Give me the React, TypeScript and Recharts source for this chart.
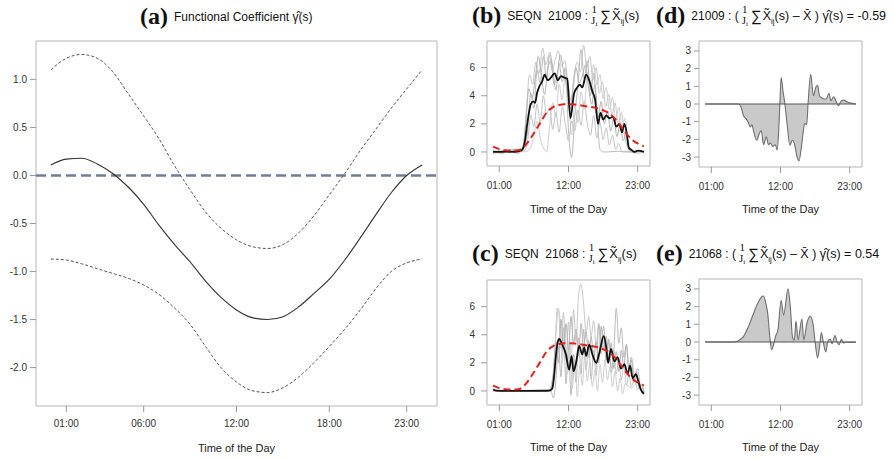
import React from 'react';
import { ComposedChart, Line, Area, XAxis, YAxis, ReferenceLine, ReferenceArea } from 'recharts';

const SANS = '"Liberation Sans", Arial, Helvetica, sans-serif';
const SERIF = '"Liberation Serif", "Times New Roman", serif';

// panel (a): functional coefficient and its band, read hourly
const hoursA = [0, 1, 2, 3, 4, 5, 6, 7, 8, 9, 10, 11, 12, 13, 14, 15, 16, 17, 18, 19, 20, 21, 22, 23, 24];
const gammaHat = [0.11, 0.17, 0.18, 0.12, 0.02, -0.12, -0.3, -0.52, -0.72, -0.9, -1.1, -1.27, -1.4, -1.48, -1.5, -1.47, -1.37, -1.23, -1.08, -0.88, -0.65, -0.41, -0.18, 0.0, 0.11];
const upperBand = [1.1, 1.22, 1.26, 1.22, 1.08, 0.85, 0.62, 0.38, 0.1, -0.15, -0.38, -0.55, -0.67, -0.74, -0.76, -0.72, -0.6, -0.42, -0.2, 0.02, 0.26, 0.48, 0.7, 0.9, 1.1];
const lowerBand = [-0.87, -0.88, -0.92, -0.97, -1.02, -1.07, -1.14, -1.24, -1.38, -1.55, -1.78, -2.0, -2.15, -2.24, -2.26, -2.21, -2.1, -1.95, -1.78, -1.6, -1.4, -1.18, -1.0, -0.91, -0.87];

const tickHoursA = [1, 6, 12, 18, 23];
const tickLabelsA = ['01:00', '06:00', '12:00', '18:00', '23:00'];
const tickHoursSmall = [1, 12, 23];
const tickLabelsSmall = ['01:00', '12:00', '23:00'];
const yTicksA = [-2, -1.5, -1, -0.5, 0, 0.5, 1];
const yTicksActivity = [0, 2, 4, 6];
const yTicksContrib = [-3, -2, -1, 0, 1, 2, 3];

// population mean curve (red dashed), [hour, value]
const overallMean = [[0, 0.38], [1, 0.2], [2, 0.12], [3, 0.1], [4, 0.12], [5, 0.4], [5.5, 0.66], [6, 1.0], [6.6, 1.4], [7.2, 1.85], [7.7, 2.2], [8.2, 2.6], [8.7, 2.9], [9.3, 3.12], [9.8, 3.27], [10.5, 3.35], [11.4, 3.4], [12.2, 3.4], [13, 3.38], [13.8, 3.33], [14.6, 3.27], [15.6, 3.2], [16.7, 3.1], [17.5, 2.97], [18.3, 2.8], [19.1, 2.5], [19.9, 2.1], [20.7, 1.6], [21.5, 1.14], [22.3, 0.8], [23.1, 0.58], [24, 0.4]];

// SEQN 21009
const mean21009 = [[0, 0.0], [1, 0.0], [2, 0.02], [3, 0.0], [4, 0.05], [4.5, 0.1], [5.0, 0.6], [5.5, 2.2], [6.0, 3.4], [6.4, 3.6], [6.7, 3.5], [7.0, 4.2], [7.4, 4.7], [7.8, 5.0], [8.2, 5.5], [8.7, 5.1], [9.2, 5.3], [9.8, 5.6], [10.3, 5.1], [10.8, 5.4], [11.3, 5.3], [11.8, 5.2], [12.3, 2.4], [12.9, 4.2], [13.4, 4.6], [13.8, 4.8], [14.2, 4.6], [14.8, 5.5], [15.3, 5.1], [15.8, 4.3], [16.2, 3.8], [16.7, 2.0], [17.1, 2.8], [17.5, 2.3], [18.0, 2.6], [18.5, 2.4], [19.1, 2.5], [19.6, 1.8], [20.1, 2.0], [20.5, 1.4], [20.9, 2.0], [21.2, 1.5], [21.6, 0.3], [22.0, 0.15], [22.5, 0.0], [23, 0.1], [24, 0.0]];
const day21009a = [[0, 0], [2, 0.1], [4, 0], [4.8, 0.2], [5.3, 3.0], [5.8, 5.5], [6.3, 4.8], [6.8, 6.4], [7.3, 5.6], [7.9, 7.4], [8.4, 6.2], [8.9, 6.9], [9.4, 5.8], [9.9, 6.6], [10.4, 7.2], [10.9, 6.1], [11.4, 6.5], [11.9, 5.0], [12.4, 3.6], [12.9, 5.5], [13.4, 6.4], [13.9, 5.7], [14.4, 7.6], [14.9, 6.0], [15.4, 6.8], [15.9, 5.1], [16.4, 6.0], [16.9, 4.2], [17.4, 5.0], [17.9, 3.2], [18.4, 4.1], [18.9, 2.6], [19.4, 3.5], [19.9, 2.0], [20.4, 2.8], [20.9, 1.2], [21.4, 0.3], [22, 0.0], [23, 0.1], [24, 0.0]];
const day21009b = [[0, 0.1], [1.5, -0.1], [3, 0.2], [4.5, 0.0], [5.0, 0.4], [5.5, 1.5], [6.0, 4.2], [6.5, 3.1], [7.0, 5.8], [7.5, 4.9], [8.0, 6.8], [8.5, 5.2], [9.0, 7.1], [9.5, 6.0], [10.0, 4.4], [10.5, 6.3], [11.0, 5.0], [11.5, 6.0], [12.0, 1.5], [12.5, -0.4], [13.0, 2.5], [13.5, 4.8], [14.0, 7.3], [14.5, 5.2], [15.0, 6.5], [15.5, 4.0], [16.0, 5.6], [16.5, 3.0], [17.0, 0.2], [17.5, 0.0], [18, 0.0], [20, 0.05], [22, 0.0], [23, 0.05], [24, 0.0]];
const day21009c = [[0, -0.1], [2, 0.0], [4, 0.1], [5, 0.0], [6.0, 0.3], [6.5, 1.2], [7.0, 2.2], [7.5, 1.0], [8.0, 0.3], [8.5, 0.0], [9.0, 1.8], [9.5, 3.5], [10.0, 2.5], [10.5, 4.8], [11.0, 3.7], [11.5, 5.6], [12.0, 4.0], [12.5, 1.2], [13.0, 3.3], [13.5, 2.1], [14.0, 4.3], [14.5, 3.1], [15.0, 5.7], [15.5, 4.4], [16.0, 6.2], [16.5, 4.8], [17.0, 5.5], [17.5, 3.8], [18.0, 4.6], [18.5, 3.0], [19.0, 3.9], [19.5, 2.2], [20.0, 3.2], [20.5, 1.8], [21.0, 2.4], [21.5, 0.4], [22, 0.0], [23, -0.1], [24, 0.0]];
const day21009d = [[0, 0.0], [2.5, 0.1], [4.0, -0.1], [4.7, 0.3], [5.2, 2.0], [5.7, 4.5], [6.2, 3.8], [6.7, 5.2], [7.2, 6.8], [7.7, 5.4], [8.2, 4.1], [8.7, 5.9], [9.2, 6.5], [9.7, 4.8], [10.2, 5.5], [10.7, 6.9], [11.2, 5.8], [11.7, 4.6], [12.2, 3.0], [12.7, 4.4], [13.2, 6.0], [13.7, 4.9], [14.2, 5.4], [14.7, 6.2], [15.2, 4.5], [15.7, 3.4], [16.2, 4.8], [16.7, 2.5], [17.2, 3.6], [17.7, 2.0], [18.2, 2.9], [18.7, 1.5], [19.2, 2.4], [19.7, 1.1], [20.2, 1.9], [20.7, 0.8], [21.2, 1.4], [21.7, 0.1], [22.5, 0.0], [24, 0.05]];
const day21009e = [[0, 0.1], [2, 0.0], [4, 0.2], [5, 0.1], [5.5, 0.8], [6.0, 2.6], [6.5, 1.8], [7.0, 3.4], [7.5, 2.1], [8.0, 4.0], [8.5, 2.7], [9.0, 3.1], [9.5, 1.6], [10.0, 2.8], [10.5, 1.4], [11.0, 3.2], [11.5, 2.0], [12.0, 0.8], [12.5, 2.2], [13.0, 1.5], [13.5, 3.0], [14.0, 1.9], [14.5, 3.6], [15.0, 2.0], [15.5, 1.2], [16.0, 2.6], [16.5, 1.0], [17.0, 2.1], [17.5, 0.9], [18.0, 1.7], [18.5, 0.5], [19.0, 1.2], [19.5, 0.2], [20, 0.6], [20.5, 0.0], [22, 0.0], [24, 0.0]];

// SEQN 21068
const mean21068 = [[0, 0.1], [0.5, 0.02], [2, 0], [4, 0], [6, 0], [8, 0.0], [9.0, 0.02], [9.4, 0.15], [9.7, 1.0], [10.0, 2.5], [10.3, 3.5], [10.5, 3.7], [11.0, 3.3], [11.6, 2.6], [12.1, 1.5], [12.5, 2.5], [12.8, 1.4], [13.2, 2.0], [13.7, 3.2], [14.2, 2.6], [14.5, 3.1], [14.8, 2.5], [15.3, 3.3], [15.8, 2.6], [16.4, 2.0], [16.9, 2.7], [17.6, 3.9], [18.0, 3.1], [18.3, 2.0], [18.75, 3.0], [19.3, 2.1], [19.8, 2.4], [20.35, 1.6], [20.9, 1.9], [21.4, 1.2], [21.8, 1.8], [22.2, 0.9], [22.7, 1.2], [23.1, 0.7], [23.5, 0.1], [24, -0.2]];
const day21068a = [[0, 0], [3, 0.05], [6, 0], [9, 0.05], [9.5, 0.5], [10.0, 4.0], [10.4, 5.9], [10.8, 3.0], [11.2, 5.6], [11.6, 2.2], [12.0, 4.9], [12.4, 1.8], [12.8, 5.8], [13.2, 3.5], [13.6, 6.8], [14.0, 7.6], [14.4, 6.2], [14.8, 4.1], [15.2, 5.3], [15.6, 3.9], [16.0, 5.0], [16.4, 3.2], [16.8, 4.7], [17.2, 2.6], [17.6, 4.0], [18.0, 2.1], [18.4, 3.5], [18.8, 1.6], [19.2, 2.9], [19.6, 1.2], [20.0, 2.3], [20.4, 0.8], [20.8, 1.8], [21.2, 0.4], [21.6, 1.2], [22, 0.3], [22.5, 0.9], [23, 0.1], [23.5, 0.4], [24, -0.1]];
const day21068b = [[0, 0.05], [4, 0], [8, 0.1], [9.2, 0.0], [9.6, -0.5], [10.0, 0.8], [10.4, 3.2], [10.8, 1.0], [11.2, 4.5], [11.6, 0.5], [12.0, 3.0], [12.4, -0.3], [12.8, 2.6], [13.2, 0.6], [13.6, 3.8], [14.0, 1.2], [14.4, 4.4], [14.8, 1.5], [15.2, 3.6], [15.6, 0.8], [16.0, 2.9], [16.4, 1.1], [16.8, 4.8], [17.2, 3.5], [17.6, 4.6], [18.0, 2.2], [18.4, 3.7], [18.8, 1.3], [19.2, 2.8], [19.6, 5.9], [20.0, 3.4], [20.4, 4.5], [20.8, 2.4], [21.2, 3.3], [21.6, 1.6], [22, 2.4], [22.5, 1.0], [23, 1.6], [23.5, 0.2], [24, 0]];
const day21068c = [[0, 0], [5, 0.05], [9, 0], [9.4, 0.3], [9.8, 2.5], [10.2, 5.9], [10.6, 5.4], [11.0, 2.0], [11.4, 4.7], [11.8, 1.2], [12.2, 3.6], [12.6, 0.2], [13.0, 2.2], [13.4, -0.4], [13.8, 1.8], [14.2, 0.4], [14.6, 2.5], [15.0, 0.7], [15.4, 2.0], [15.8, 0.3], [16.2, 1.5], [16.6, 0.0], [17.0, 1.9], [17.4, 0.6], [17.8, 2.2], [18.2, 0.8], [18.6, 1.7], [19.0, 0.3], [19.4, 1.4], [19.8, 0.0], [20.2, 0.9], [20.6, -0.2], [21, 0.5], [22, 0.2], [23, 0.6], [24, 0.1]];
const day21068d = [[0, 0], [6, 0], [9, 0.1], [9.6, 1.4], [10.0, 3.5], [10.4, 2.0], [10.8, 5.1], [11.2, 3.1], [11.6, 4.8], [12.0, 2.9], [12.4, 5.3], [12.8, 3.4], [13.2, 4.4], [13.6, 2.5], [14.0, 4.8], [14.4, 3.0], [14.8, 4.2], [15.2, 2.4], [15.6, 3.9], [16.0, 2.2], [16.4, 3.5], [16.8, 2.0], [17.2, 4.6], [17.6, 3.0], [18.0, 3.9], [18.4, 2.1], [18.8, 3.4], [19.2, 1.6], [19.6, 2.8], [20.0, 1.4], [20.4, 2.9], [20.8, 1.7], [21.2, 3.3], [21.6, 1.5], [22.0, 2.2], [22.4, 0.6], [22.8, 1.4], [23.2, 0.2], [23.6, 0.5], [24, -0.1]];

// contributions (panels d, e)
const contrib21009 = [[0, 0], [3, 0], [5.3, 0], [5.7, -0.15], [6.1, -0.65], [6.55, -0.84], [6.9, -1.06], [7.2, -1.3], [7.45, -1.17], [7.7, -1.5], [8.0, -1.9], [8.26, -2.05], [8.6, -1.7], [8.95, -1.5], [9.3, -2.3], [9.75, -1.86], [10.1, -2.3], [10.4, -2.2], [10.8, -2.4], [11.2, -2.3], [11.47, -2.6], [11.73, -1.4], [11.9, 0], [12.1, 1.5], [12.43, 0.65], [12.7, 0], [13.07, -1.2], [13.5, -2.33], [13.87, -2.05], [14.25, -2.3], [14.57, -2.9], [14.94, -3.22], [15.3, -2.5], [15.64, -1.5], [15.85, -1.1], [16.17, -1.17], [16.38, 0], [16.8, 1.68], [17.24, 0.47], [17.6, 0.93], [17.9, 1.06], [18.2, 0.47], [18.5, 0.37], [18.95, 0.28], [19.3, 0.3], [19.7, 0.61], [20.0, 0.19], [20.45, 0.41], [20.9, 0.1], [21.2, -0.1], [21.6, 0.15], [22.05, 0.22], [22.7, 0.1], [23.2, 0.05], [24, 0]];
const contrib21068 = [[0, 0], [3, 0], [4.5, 0], [5.3, 0.07], [6.1, 0.3], [6.9, 0.87], [7.7, 1.6], [8.5, 2.27], [9.1, 2.58], [9.3, 2.6], [9.6, 2.3], [9.97, 1.6], [10.3, 0.3], [10.6, -0.43], [10.9, -0.15], [11.2, 0.3], [11.6, 0.7], [12.1, 2.36], [12.5, 1.52], [13.2, 3.0], [13.6, 1.8], [13.9, 0.3], [14.2, 0.1], [14.46, 1.19], [14.8, 0.13], [15.4, 1.3], [15.7, 0.13], [16.2, 1.06], [16.7, 1.47], [17.2, 0.97], [17.5, 0.0], [17.9, -0.9], [18.2, -0.3], [18.5, 0.54], [18.8, 0.0], [19.2, -0.56], [19.5, 0.0], [19.9, 0.17], [20.2, -0.1], [20.66, 0.37], [21.0, 0.0], [21.3, -0.15], [21.7, 0.15], [22.0, -0.05], [22.4, 0.0], [23.2, -0.02], [24, 0]];

const X_DOMAIN: [number, number] = [-0.96, 24.96];
const pts = (arr: number[][]) => arr.map(([t, v]) => ({ t, v }));
const dataA = hoursA.map((t, i) => ({ t, gamma: gammaHat[i], upper: upperBand[i], lower: lowerBand[i] }));

const axisText = { fontSize: 10, fill: '#333', fontFamily: SANS };

function frame(o: {
  xTicks: number[]; xLabels: string[]; yDomain: [number, number]; yTicks: number[]; yFmt: (v: number) => string;
  yWidth: number; xHeight: number; xMargin: number; yMargin: number; ySize: number; labelOffset: number;
}) {
  return [
    <XAxis key="x" type="number" dataKey="t" domain={X_DOMAIN} allowDataOverflow ticks={o.xTicks}
      tickFormatter={(v: number) => o.xLabels[o.xTicks.indexOf(v)]} height={o.xHeight} axisLine={false}
      tickLine={{ stroke: '#9a9a9a' }} tickSize={6} tickMargin={o.xMargin} tick={axisText}
      label={{ value: 'Time of the Day', position: 'insideBottom', offset: o.labelOffset, fontSize: 11, fill: '#222', fontFamily: SANS }} />,
    <YAxis key="y" type="number" domain={o.yDomain} allowDataOverflow ticks={o.yTicks} tickFormatter={o.yFmt}
      width={o.yWidth} axisLine={false} tickLine={{ stroke: '#9a9a9a' }} tickSize={o.ySize} tickMargin={o.yMargin} tick={axisText} />,
    <ReferenceArea key="box" x1={X_DOMAIN[0]} x2={X_DOMAIN[1]} y1={o.yDomain[0]} y2={o.yDomain[1]}
      fill="none" fillOpacity={0} stroke="#b5b5b5" strokeWidth={1} ifOverflow="visible" />,
  ];
}

const greyLine = (key: string, data: number[][], color: string) => (
  <Line key={key} data={pts(data)} dataKey="v" type="monotone" stroke={color} strokeWidth={1} dot={false} activeDot={false} isAnimationActive={false} />
);

function ActivityPanel({ top, height, mean, days }: { top: number; height: number; mean: number[][]; days: number[][][] }) {
  const greys = ['#c8c8c8', '#bababa', '#cfcfcf', '#b3b3b3', '#c4c4c4'];
  return (
    <div style={{ position: 'absolute', left: 440, top, width: 220, height }}>
      <ComposedChart width={220} height={height} margin={{ top: height === 230 ? 41 : 50, right: 10, bottom: 0, left: 0 }}>
        {frame({ xTicks: tickHoursSmall, xLabels: tickLabelsSmall, yDomain: [-1.0, 7.9], yTicks: yTicksActivity, yFmt: (v) => String(v), yWidth: 47, xHeight: height === 230 ? 64 : 54, xMargin: 10, yMargin: 6, ySize: 6, labelOffset: height === 230 ? 17 : 8 })}
        {days.map((d, i) => greyLine('g' + i, d, greys[i % greys.length]))}
        <Line data={pts(mean)} dataKey="v" type="monotone" stroke="#111" strokeWidth={1.8} dot={false} activeDot={false} isAnimationActive={false} />
        <Line data={pts(overallMean)} dataKey="v" type="monotone" stroke="#e3201b" strokeWidth={2} strokeDasharray="7 4" dot={false} activeDot={false} isAnimationActive={false} />
      </ComposedChart>
    </div>
  );
}

function ContribPanel({ top, height, series }: { top: number; height: number; series: number[][] }) {
  return (
    <div style={{ position: 'absolute', left: 660, top, width: 234, height }}>
      <ComposedChart width={234} height={height} data={pts(series)} margin={{ top: height === 230 ? 41 : 49, right: 32, bottom: 0, left: 0 }}>
        {frame({ xTicks: tickHoursSmall, xLabels: tickLabelsSmall, yDomain: [-3.56, 3.56], yTicks: yTicksContrib, yFmt: (v) => String(v), yWidth: 39, xHeight: height === 230 ? 63 : 54, xMargin: 10, yMargin: 3, ySize: 5, labelOffset: height === 230 ? 17 : 8 })}
        <Area dataKey="v" type="monotone" baseValue={0} fill="#c9c9c9" fillOpacity={1} stroke="#6f6f6f" strokeWidth={1.1} dot={false} activeDot={false} isAnimationActive={false} />
        <ReferenceLine segment={[{ x: 0, y: 0 }, { x: 24, y: 0 }]} stroke="#555" strokeWidth={1} />
      </ComposedChart>
    </div>
  );
}

const sub = { fontSize: 8, verticalAlign: 'sub' as const, lineHeight: 0 };

function Frac() {
  return (
    <span style={{ display: 'inline-flex', flexDirection: 'column', alignItems: 'center', fontSize: 11, lineHeight: '11px', margin: '0 3px 0 3px' }}>
      <span>1</span>
      <span>J<span style={{ fontSize: 7, position: 'relative', top: 2 }}>i</span></span>
    </span>
  );
}

function SeqnTitle({ letter, id, left, top }: { letter: string; id: string; left: number; top: number }) {
  return (
    <div style={{ position: 'absolute', left, top, display: 'flex', alignItems: 'center', whiteSpace: 'nowrap', color: '#111' }}>
      <span style={{ fontFamily: SERIF, fontWeight: 700, fontSize: 24, marginRight: 6 }}>({letter})</span>
      <span style={{ fontFamily: SANS, fontSize: 12 }}>SEQN&nbsp;&nbsp;{id} :</span>
      <Frac />
      <span style={{ fontFamily: SANS, fontSize: 15, marginRight: 1 }}>∑</span>
      <span style={{ fontFamily: SANS, fontSize: 13 }}>X̃<span style={sub}>ij</span>(s)</span>
    </div>
  );
}

function ContribTitle({ letter, id, value, left, top }: { letter: string; id: string; value: string; left: number; top: number }) {
  return (
    <div style={{ position: 'absolute', left, top, display: 'flex', alignItems: 'center', whiteSpace: 'nowrap', color: '#111' }}>
      <span style={{ fontFamily: SERIF, fontWeight: 700, fontSize: 24, marginRight: 6 }}>({letter})</span>
      <span style={{ fontFamily: SANS, fontSize: 12 }}>{id} : (</span>
      <Frac />
      <span style={{ fontFamily: SANS, fontSize: 15, marginRight: 1 }}>∑</span>
      <span style={{ fontFamily: SANS, fontSize: 12.5 }}>X̃<span style={sub}>ij</span>(s) – X̄ ) γ̂(s) = {value}</span>
    </div>
  );
}

export default function App() {
  return (
    <div style={{ position: 'absolute', left: 0, top: 0, width: 894, height: 459, background: '#fff', overflow: 'hidden' }}>
      <div style={{ position: 'absolute', left: 0, top: 0, width: 450, height: 459 }}>
        <ComposedChart width={450} height={459} data={dataA} margin={{ top: 41, right: 13, bottom: 0, left: 0 }}>
          {frame({ xTicks: tickHoursA, xLabels: tickLabelsA, yDomain: [-2.4, 1.4], yTicks: yTicksA, yFmt: (v) => v.toFixed(1), yWidth: 36, xHeight: 53, xMargin: 8, yMargin: 3, ySize: 6, labelOffset: 7 })}
          <ReferenceLine y={0} stroke="#717d94" strokeWidth={2.5} strokeDasharray="10 5" />
          <Line dataKey="upper" type="monotone" stroke="#555" strokeWidth={1} strokeDasharray="3 2" dot={false} activeDot={false} isAnimationActive={false} />
          <Line dataKey="lower" type="monotone" stroke="#555" strokeWidth={1} strokeDasharray="3 2" dot={false} activeDot={false} isAnimationActive={false} />
          <Line dataKey="gamma" type="monotone" stroke="#333" strokeWidth={1.1} dot={false} activeDot={false} isAnimationActive={false} />
        </ComposedChart>
      </div>
      <ActivityPanel top={0} height={230} mean={mean21009} days={[day21009a, day21009b, day21009c, day21009d, day21009e]} />
      <ActivityPanel top={230} height={229} mean={mean21068} days={[day21068a, day21068b, day21068c, day21068d]} />
      <ContribPanel top={0} height={230} series={contrib21009} />
      <ContribPanel top={230} height={229} series={contrib21068} />

      <div style={{ position: 'absolute', left: 140, top: 3, display: 'flex', alignItems: 'center', whiteSpace: 'nowrap', color: '#111' }}>
        <span style={{ fontFamily: SERIF, fontWeight: 700, fontSize: 24, marginRight: 6 }}>(a)</span>
        <span style={{ fontFamily: SANS, fontSize: 12 }}>Functional Coefficient γ̂(s)</span>
      </div>
      <SeqnTitle letter="b" id="21009" left={472} top={2} />
      <SeqnTitle letter="c" id="21068" left={472} top={240} />
      <ContribTitle letter="d" id="21009" value="-0.59" left={656} top={2} />
      <ContribTitle letter="e" id="21068" value="0.54" left={656} top={240} />
    </div>
  );
}
